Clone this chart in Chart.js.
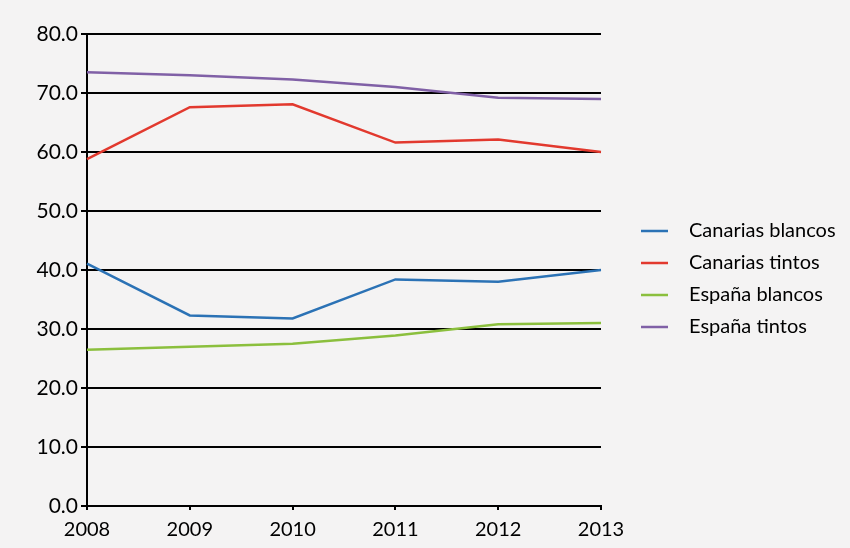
<!DOCTYPE html>
<html>
<head>
<meta charset="utf-8">
<script src="https://cdn.jsdelivr.net/npm/chart.js@4"></script>
<style>
  html, body { margin: 0; padding: 0; background: #f4f3f3; }
  #wrap { width: 850px; height: 548px; }
</style>
</head>
<body>
<div id="wrap"><canvas id="c" width="850" height="548"></canvas></div>
<script>
const years = ['2008', '2009', '2010', '2011', '2012', '2013'];
const seriesNames = ['Canarias blancos', 'Canarias tintos', 'España blancos', 'España tintos'];
const canariasBlancos = [41.1, 32.3, 31.8, 38.4, 38.0, 40.0];
const canariasTintos  = [58.8, 67.6, 68.1, 61.6, 62.1, 60.0];
const espanaBlancos   = [26.5, 27.0, 27.5, 28.9, 30.8, 31.0];
const espanaTintos    = [73.5, 73.0, 72.3, 71.0, 69.2, 69.0];
const yTicks = [0, 10, 20, 30, 40, 50, 60, 70, 80];

const seriesColors = ['#2b72b5', '#e2392e', '#8bbf3d', '#8060a6'];
const seriesValues = [canariasBlancos, canariasTintos, espanaBlancos, espanaTintos];

function legendSwatch(color) {
  const c = document.createElement('canvas');
  c.width = 66; c.height = 4;
  const g = c.getContext('2d');
  g.strokeStyle = color;
  g.lineWidth = 2.5;
  g.beginPath();
  g.moveTo(28, 2);
  g.lineTo(55, 2);
  g.stroke();
  return c;
}

const FONT = 'Lato, "Open Sans", sans-serif';

new Chart(document.getElementById('c'), {
  type: 'line',
  data: {
    labels: years,
    datasets: seriesNames.map((name, i) => ({
      label: name,
      data: seriesValues[i],
      borderColor: seriesColors[i],
      backgroundColor: seriesColors[i],
      borderWidth: 2.5,
      pointRadius: 0,
      pointHoverRadius: 0,
      tension: 0,
      fill: false
    }))
  },
  options: {
    responsive: false,
    animation: false,
    events: [],
    layout: { padding: { top: 34, bottom: 0, left: 0, right: 11 } },
    plugins: {
      tooltip: { enabled: false },
      legend: {
        position: 'right',
        align: 'center',
        fullSize: false,
        maxWidth: 238,
        title: { display: true, text: ' ', padding: 0, font: { size: 18, lineHeight: 1 } },
        labels: {
          usePointStyle: true,
          pointStyleWidth: 66,
          padding: 12,
          color: '#000',
          font: { family: FONT, size: 20 },
          generateLabels(chart) {
            const items = Chart.defaults.plugins.legend.labels.generateLabels(chart);
            items.forEach((it, i) => { it.pointStyle = legendSwatch(seriesColors[i]); });
            return items;
          }
        }
      }
    },
    scales: {
      x: {
        type: 'category',
        offset: false,
        border: { display: true, color: '#000', width: 2 },
        grid: { display: true, drawOnChartArea: false, drawTicks: true, tickLength: 4, color: '#000', lineWidth: 2 },
        ticks: { color: '#000', padding: 8, maxRotation: 0, autoSkip: false, font: { family: FONT, size: 20 } },
        afterFit(scale) { scale.height = 42; }
      },
      y: {
        min: 0,
        max: 80,
        afterBuildTicks(scale) { scale.ticks = yTicks.map(v => ({ value: v })); },
        border: { display: true, color: '#000', width: 2 },
        grid: { color: '#000', lineWidth: 2, tickLength: 6, drawTicks: true },
        ticks: {
          color: '#000',
          padding: 3,
          font: { family: FONT, size: 21 },
          callback: v => Number(v).toFixed(1)
        },
        afterFit(scale) { scale.width = 87; }
      }
    }
  }
});
</script>
</body>
</html>
